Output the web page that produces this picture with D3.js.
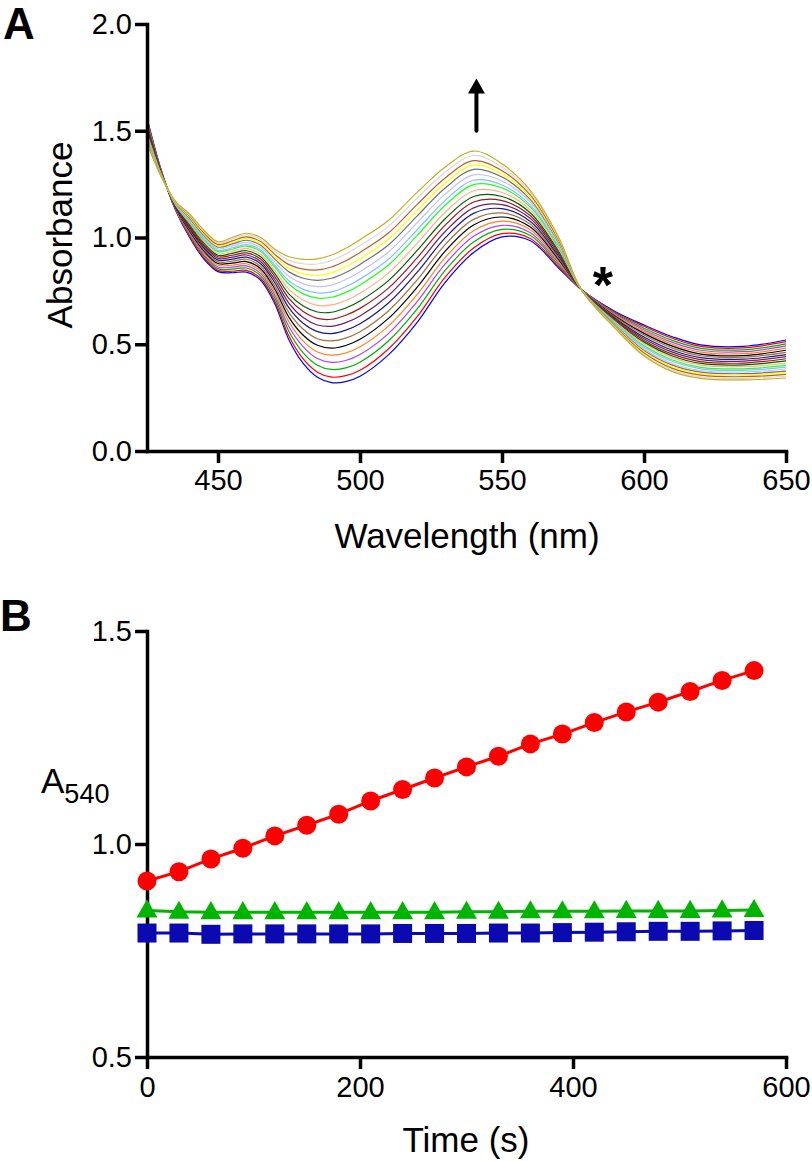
<!DOCTYPE html>
<html><head><meta charset="utf-8">
<script src="https://cdn.jsdelivr.net/npm/d3@7"></script>
<style>
body{margin:0;background:#fff}
svg{display:block}
text{font-family:"Liberation Sans",Arial,Helvetica,sans-serif;fill:#000}
</style>
</head><body>
<svg id="chart" width="812" height="1161"></svg>
<script>
// ---------- Panel A data: absorbance of 20 successive spectra (columns) at each wavelength (rows) ----------
const wavelengths = [425,430,435,440,445,450,455,460,465,470,475,480,485,490,495,500,510,520,530,540,550,560,570,578,590,600,610,620,635,650];
const absorbanceByWavelength = [
 [1.560,1.555,1.548,1.541,1.534,1.527,1.521,1.514,1.507,1.500,1.494,1.487,1.480,1.475,1.468,1.462,1.457,1.451,1.445,1.440],
 [1.315,1.314,1.312,1.310,1.309,1.307,1.305,1.303,1.302,1.300,1.298,1.297,1.295,1.294,1.292,1.290,1.289,1.288,1.286,1.285],
 [1.130,1.132,1.134,1.136,1.139,1.141,1.143,1.145,1.148,1.150,1.152,1.154,1.157,1.158,1.161,1.163,1.164,1.166,1.168,1.170],
 [1.000,1.005,1.011,1.017,1.024,1.030,1.036,1.042,1.049,1.055,1.061,1.067,1.074,1.078,1.084,1.090,1.095,1.100,1.105,1.110],
 [0.900,0.906,0.914,0.921,0.929,0.937,0.944,0.952,0.960,0.967,0.975,0.982,0.990,0.996,1.003,1.010,1.016,1.022,1.029,1.035],
 [0.840,0.846,0.854,0.862,0.870,0.878,0.886,0.894,0.902,0.910,0.917,0.925,0.934,0.940,0.947,0.955,0.960,0.967,0.974,0.980],
 [0.835,0.842,0.852,0.861,0.870,0.880,0.889,0.899,0.908,0.917,0.926,0.935,0.945,0.952,0.961,0.970,0.977,0.984,0.993,1.000],
 [0.838,0.846,0.857,0.867,0.877,0.887,0.898,0.908,0.918,0.928,0.938,0.949,0.960,0.967,0.977,0.987,0.995,1.003,1.012,1.020],
 [0.800,0.809,0.821,0.832,0.843,0.854,0.865,0.877,0.888,0.899,0.910,0.922,0.934,0.942,0.953,0.964,0.972,0.981,0.991,1.000],
 [0.690,0.701,0.716,0.731,0.745,0.759,0.773,0.788,0.802,0.817,0.831,0.845,0.861,0.871,0.885,0.899,0.909,0.921,0.934,0.945],
 [0.520,0.537,0.560,0.582,0.604,0.626,0.648,0.670,0.692,0.714,0.735,0.757,0.781,0.797,0.818,0.839,0.855,0.873,0.893,0.910],
 [0.410,0.431,0.460,0.488,0.515,0.542,0.570,0.598,0.625,0.653,0.679,0.707,0.736,0.757,0.783,0.809,0.830,0.852,0.877,0.898],
 [0.345,0.369,0.402,0.433,0.464,0.495,0.526,0.559,0.590,0.621,0.651,0.682,0.716,0.740,0.770,0.799,0.822,0.848,0.876,0.900],
 [0.320,0.346,0.382,0.415,0.449,0.482,0.516,0.550,0.584,0.617,0.650,0.684,0.720,0.745,0.777,0.809,0.834,0.862,0.892,0.918],
 [0.325,0.353,0.389,0.424,0.459,0.494,0.529,0.566,0.601,0.636,0.670,0.705,0.743,0.769,0.803,0.836,0.863,0.891,0.923,0.950],
 [0.350,0.378,0.416,0.452,0.488,0.523,0.559,0.596,0.632,0.668,0.703,0.739,0.778,0.805,0.840,0.874,0.900,0.930,0.962,0.990],
 [0.450,0.478,0.515,0.550,0.585,0.621,0.656,0.693,0.728,0.763,0.798,0.833,0.871,0.898,0.932,0.965,0.992,1.021,1.052,1.080],
 [0.600,0.627,0.663,0.697,0.731,0.765,0.799,0.835,0.869,0.903,0.937,0.971,1.008,1.034,1.067,1.099,1.125,1.153,1.183,1.210],
 [0.790,0.814,0.846,0.876,0.906,0.936,0.967,0.998,1.028,1.058,1.088,1.118,1.151,1.174,1.203,1.232,1.254,1.279,1.306,1.330],
 [0.930,0.951,0.979,1.006,1.032,1.059,1.085,1.113,1.139,1.166,1.192,1.219,1.248,1.268,1.293,1.319,1.339,1.360,1.384,1.405],
 [1.003,1.018,1.038,1.057,1.077,1.096,1.115,1.135,1.154,1.173,1.192,1.211,1.232,1.246,1.265,1.283,1.297,1.313,1.330,1.345],
 [0.985,0.995,1.009,1.022,1.036,1.049,1.062,1.075,1.089,1.102,1.115,1.128,1.142,1.152,1.165,1.177,1.187,1.198,1.210,1.220],
 [0.856,0.862,0.871,0.879,0.887,0.895,0.903,0.911,0.920,0.928,0.935,0.944,0.952,0.958,0.966,0.974,0.980,0.986,0.994,1.000],
 [0.755,0.755,0.755,0.755,0.755,0.755,0.755,0.755,0.755,0.755,0.755,0.755,0.755,0.755,0.755,0.755,0.755,0.755,0.755,0.755],
 [0.652,0.648,0.644,0.639,0.635,0.630,0.626,0.621,0.617,0.612,0.608,0.603,0.598,0.595,0.591,0.587,0.583,0.580,0.576,0.572],
 [0.590,0.584,0.575,0.567,0.559,0.551,0.543,0.534,0.526,0.518,0.510,0.502,0.493,0.487,0.479,0.471,0.465,0.459,0.451,0.445],
 [0.535,0.528,0.518,0.509,0.500,0.491,0.482,0.472,0.463,0.454,0.445,0.436,0.426,0.419,0.410,0.402,0.395,0.387,0.379,0.372],
 [0.497,0.490,0.481,0.472,0.463,0.454,0.446,0.437,0.428,0.419,0.410,0.402,0.392,0.385,0.377,0.369,0.362,0.355,0.347,0.340],
 [0.490,0.483,0.474,0.465,0.456,0.447,0.439,0.430,0.421,0.412,0.403,0.395,0.385,0.378,0.370,0.362,0.355,0.348,0.340,0.333],
 [0.520,0.512,0.502,0.492,0.482,0.472,0.462,0.451,0.442,0.432,0.422,0.412,0.401,0.393,0.384,0.374,0.367,0.359,0.350,0.342]
];
const spectrumColors = ["#0000ff","#ff0000","#00b000","#b040f0","#ff8020","#000000","#a07040","#1a1a80","#702060","#a01818","#006000","#ffb080","#20ff20","#80c0ff","#c0c0ff","#707070","#ffff00","#c06020","#d8d8d8","#c0b020"];
const aTicksX = [450,500,550,600,650];
const aTicksY = [0.0,0.5,1.0,1.5,2.0];

// ---------- Panel B data: A540 vs time ----------
const timePoints = [0,30,60,90,120,150,180,210,240,270,300,330,360,390,420,450,480,510,540,570];
const a540Red   = [0.913,0.935,0.965,0.990,1.019,1.044,1.070,1.101,1.128,1.155,1.181,1.206,1.235,1.258,1.285,1.310,1.333,1.358,1.384,1.407];
const a540Green = [0.844,0.841,0.840,0.840,0.840,0.840,0.840,0.840,0.840,0.840,0.841,0.841,0.842,0.842,0.842,0.843,0.843,0.843,0.844,0.845];
const a540Blue  = [0.791,0.791,0.788,0.789,0.789,0.789,0.789,0.789,0.790,0.790,0.790,0.791,0.791,0.792,0.793,0.794,0.795,0.795,0.796,0.797];
const bTicksX = [0,200,400,600];
const bTicksY = [0.5,1.0,1.5];

const svg = d3.select("#chart");
const AXW = 3.5, TICK = 12, TICKFS = "29px", TITLEFS = "35px";

function styleAxis(g){
  g.select(".domain").attr("stroke","#000").attr("stroke-width",AXW).attr("stroke-linecap","square");
  g.selectAll(".tick line").attr("stroke","#000").attr("stroke-width",AXW);
  g.selectAll(".tick text").style("font-size",TICKFS).attr("fill","#000");
}

// ================= Panel A =================
const xA = d3.scaleLinear().domain([425,650]).range([147,786]);
const yA = d3.scaleLinear().domain([0,2]).range([451,24]);
const gA = svg.append("g");

const spectra = spectrumColors.map((c,i)=>({color:c, pts: wavelengths.map((w,j)=>({w, a: absorbanceByWavelength[j][i]}))}));
const lineA = d3.line().x(d=>xA(d.w)).y(d=>yA(d.a)).curve(d3.curveCatmullRom.alpha(0.5));
gA.append("g").selectAll("path").data(spectra).join("path")
  .attr("d",d=>lineA(d.pts)).attr("fill","none").attr("stroke",d=>d.color).attr("stroke-width",1.2);

gA.append("g").attr("transform","translate(0,451)")
  .call(d3.axisBottom(xA).tickValues(aTicksX).tickSize(TICK).tickSizeOuter(0).tickPadding(6).tickFormat(d3.format("d")))
  .call(styleAxis);
gA.append("g").attr("transform","translate(147,0)")
  .call(d3.axisLeft(yA).tickValues(aTicksY).tickSize(TICK).tickSizeOuter(0).tickPadding(3).tickFormat(d3.format(".1f")))
  .call(styleAxis);

gA.append("text").attr("x",467).attr("y",548).attr("text-anchor","middle").style("font-size",TITLEFS).text("Wavelength (nm)");
gA.append("text").attr("transform","translate(72,235) rotate(-90)").attr("text-anchor","middle").style("font-size",TITLEFS).text("Absorbance");
gA.append("text").attr("x",3).attr("y",39).style("font-size","44px").style("font-weight","bold").text("A");

// arrow
const arrX = xA(541);
gA.append("line").attr("x1",arrX).attr("x2",arrX).attr("y1",yA(1.5)).attr("y2",yA(1.71))
  .attr("stroke","#000").attr("stroke-width",4).attr("stroke-linecap","round");
gA.append("path").attr("d",`M${arrX},${yA(1.745)} L${arrX-8.5},${yA(1.675)} L${arrX+8.5},${yA(1.675)} Z`).attr("fill","#000");
// asterisk
gA.append("text").attr("x",xA(585.5)).attr("y",303).attr("text-anchor","middle").style("font-size","52px").style("font-weight","bold").text("*");

// ================= Panel B =================
const xB = d3.scaleLinear().domain([0,600]).range([147,786]);
const yB = d3.scaleLinear().domain([0.5,1.5]).range([1057,631]);
const gB = svg.append("g");

gB.append("g").attr("transform","translate(0,1057)")
  .call(d3.axisBottom(xB).tickValues(bTicksX).tickSize(TICK).tickSizeOuter(0).tickPadding(7).tickFormat(d3.format("d")))
  .call(styleAxis);
gB.append("g").attr("transform","translate(147,0)")
  .call(d3.axisLeft(yB).tickValues(bTicksY).tickSize(TICK).tickSizeOuter(0).tickPadding(3).tickFormat(d3.format(".1f")))
  .call(styleAxis);

const series = [
  {vals:a540Blue, color:"#0a0ab0", shape:"square"},
  {vals:a540Green, color:"#00b400", shape:"triangle"},
  {vals:a540Red, color:"#ff0000", shape:"circle"}
];
const lineB = d3.line().x(d=>xB(d.t)).y(d=>yB(d.v));
series.forEach(s=>{
  const pts = timePoints.map((t,i)=>({t, v:s.vals[i]}));
  gB.append("path").attr("d",lineB(pts)).attr("fill","none").attr("stroke",s.color).attr("stroke-width",3);
  const g = gB.append("g");
  if(s.shape==="circle"){
    g.selectAll("circle").data(pts).join("circle").attr("cx",d=>xB(d.t)).attr("cy",d=>yB(d.v)).attr("r",9.5).attr("fill",s.color);
  } else if(s.shape==="square"){
    g.selectAll("rect").data(pts).join("rect").attr("x",d=>xB(d.t)-9.5).attr("y",d=>yB(d.v)-9.5).attr("width",19).attr("height",19).attr("fill",s.color);
  } else {
    const tri = d3.symbol(d3.symbolTriangle, 190);
    g.selectAll("path").data(pts).join("path").attr("transform",d=>`translate(${xB(d.t)},${yB(d.v)+1})`).attr("d",tri).attr("fill",s.color);
  }
});

gB.append("text").attr("x",466).attr("y",1152).attr("text-anchor","middle").style("font-size",TITLEFS).text("Time (s)");
const yl = gB.append("text").attr("x",41).attr("y",793).style("font-size","35px");
yl.append("tspan").text("A");
yl.append("tspan").attr("dy",10).style("font-size","27px").text("540");
gB.append("text").attr("x",0).attr("y",631).style("font-size","44px").style("font-weight","bold").text("B");
</script>
</body></html>
